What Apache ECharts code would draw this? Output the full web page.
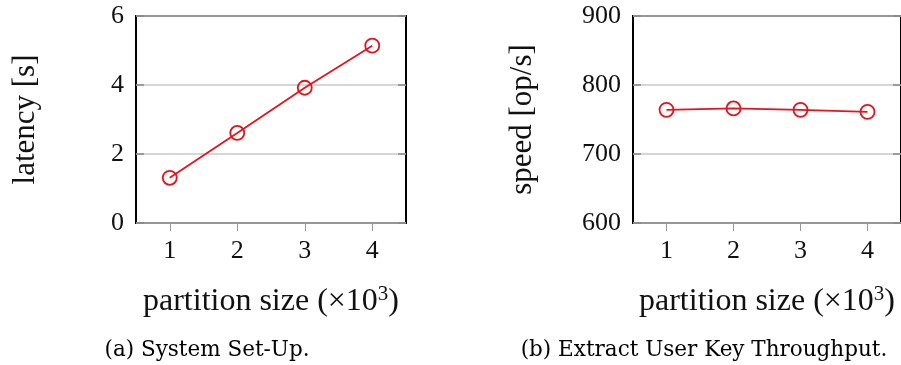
<!DOCTYPE html>
<html>
<head>
<meta charset="utf-8">
<script src="https://cdn.jsdelivr.net/npm/echarts@6/dist/echarts.min.js"></script>
<style>
  html, body { margin: 0; padding: 0; background: #fff; }
  #chart { width: 901px; height: 365px; }
</style>
</head>
<body>
<div id="chart"></div>
<script>
// ------------------------------------------------------- //
// Data
// ------------------------------------------------------ //
var partitionSizes = ['1', '2', '3', '4'];
var latencyValues = [1.31, 2.61, 3.92, 5.14];
var speedValues = [764, 766, 764, 761];
var latencyTicks = [0, 2, 4, 6];
var speedTicks = [600, 700, 800, 900];

var serif = '"Liberation Serif", "DejaVu Serif", serif';
var red = '#e3141c';

function xAxisFor(gridIndex) {
    return {
        type: 'category',
        gridIndex: gridIndex,
        data: partitionSizes,
        boundaryGap: true,
        axisLine: {show: false},
        axisTick: {show: true, alignWithLabel: true, length: 8, lineStyle: {color: '#999', width: 1}},
        axisLabel: {fontFamily: serif, fontSize: 26, color: '#111', margin: 15},
        splitLine: {show: false},
        name: '{t|partition size (×10}{sup|3}{t|)}',
        nameLocation: 'middle',
        nameGap: 61,
        nameTextStyle: {
            rich: {
                t: {fontFamily: serif, fontSize: 32, color: '#111'},
                sup: {fontFamily: serif, fontSize: 21, color: '#111', padding: [0, 0, 14, 0]}
            }
        }
    };
}

function yAxisFor(gridIndex, min, max, interval, name, gap) {
    return {
        type: 'value',
        gridIndex: gridIndex,
        min: min,
        max: max,
        interval: interval,
        axisLine: {show: false},
        axisTick: {show: true, inside: true, length: 8, lineStyle: {color: '#888', width: 1.5}},
        axisLabel: {fontFamily: serif, fontSize: 26, color: '#111', margin: 12},
        splitLine: {show: true, lineStyle: {color: '#c8c8c8', width: 1.5}},
        name: name,
        nameLocation: 'middle',
        nameGap: gap,
        nameTextStyle: {fontFamily: serif, fontSize: 31, color: '#111'}
    };
}

function rightTicks(gridIndex, min, max, interval) {
    return {
        type: 'value',
        gridIndex: gridIndex,
        position: 'right',
        min: min,
        max: max,
        interval: interval,
        axisLine: {show: false},
        axisTick: {show: true, inside: true, length: 8, lineStyle: {color: '#888', width: 1.5}},
        axisLabel: {show: false},
        splitLine: {show: false}
    };
}

function lineSeries(axisIndex, values) {
    return {
        type: 'line', xAxisIndex: axisIndex, yAxisIndex: axisIndex, data: values,
        symbol: 'circle', symbolSize: 14, showAllSymbol: true,
        lineStyle: {color: red, width: 1.8},
        itemStyle: {color: 'rgba(255,255,255,0)', borderColor: red, borderWidth: 1.8}
    };
}

var chart = echarts.init(document.getElementById('chart'));
var option = {
    animation: false,
    grid: [
        {left: 136, top: 16, width: 270, height: 207, show: true, borderColor: '#000', borderWidth: 2, backgroundColor: 'transparent'},
        {left: 633, top: 16, width: 270, height: 207, show: true, borderColor: '#000', borderWidth: 2, backgroundColor: 'transparent'}
    ],
    xAxis: [xAxisFor(0), xAxisFor(1)],
    yAxis: [
        yAxisFor(0, latencyTicks[0], latencyTicks[3], 2, 'latency [s]', 95),
        yAxisFor(1, speedTicks[0], speedTicks[3], 100, 'speed [op/s]', 95),
        rightTicks(0, latencyTicks[0], latencyTicks[3], 2),
        rightTicks(1, speedTicks[0], speedTicks[3], 100)
    ],
    series: [lineSeries(0, latencyValues), lineSeries(1, speedValues)],
    graphic: [
        {type: 'text', position: [207, 350], style: {text: '(a) System Set-Up.', font: '21.5px "DejaVu Serif", serif', fill: '#000', textAlign: 'center', textVerticalAlign: 'middle'}},
        {type: 'text', position: [704, 350], style: {text: '(b) Extract User Key Throughput.', font: '21.5px "DejaVu Serif", serif', fill: '#000', textAlign: 'center', textVerticalAlign: 'middle'}}
    ]
};
chart.setOption(option);

window.addEventListener('resize', function () {
    chart.resize();
});
</script>
</body>
</html>
